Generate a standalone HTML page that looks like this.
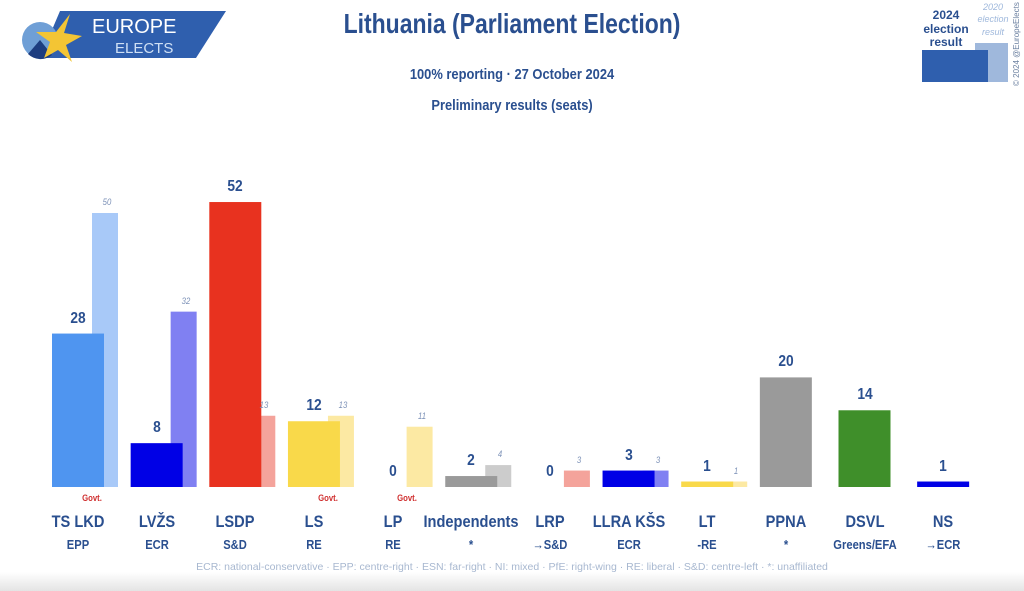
<!DOCTYPE html>
<html><head><meta charset="utf-8"><style>
html,body{margin:0;padding:0;width:1024px;height:591px;overflow:hidden;background:#fff;font-family:"Liberation Sans",sans-serif}
#wrap{position:relative;width:1024px;height:591px}
.t{position:absolute;color:#2a4f8f;font-weight:bold;white-space:nowrap;transform:scaleX(0.86);transform-origin:center}
</style></head><body><div id="wrap">
<svg width="1024" height="591" style="position:absolute;left:0;top:0">
<defs><linearGradient id="sh" x1="0" y1="0" x2="0" y2="1"><stop offset="0" stop-color="#fff"/><stop offset="1" stop-color="#e4e4e4"/></linearGradient></defs>
<rect x="0" y="572" width="1024" height="19" fill="url(#sh)"/>
<g>
<polygon points="60,11 226,11 196,58 40,58" fill="#2f5fae"/>
<circle cx="40" cy="40" r="18" fill="#6f9fd6"/>
<path d="M40,40 L28,54 A18,18 0 0 0 52,55 Z" fill="#1d3d80"/>
<polygon points="70,14 64,33 82,36 66,45 72,62 58,50 44,58 50,42 36,32 56,32" fill="#f3c534"/>
<text x="92" y="33" font-size="20" fill="#fff" font-family="Liberation Sans">EUROPE</text>
<text x="115" y="53" font-size="15" fill="#cfe0f5" font-family="Liberation Sans">ELECTS</text>
</g>
<g>
<rect x="975" y="43" width="33" height="39" fill="#9fb8dc"/>
<rect x="922" y="50" width="66" height="32" fill="#2f5fae"/>
<text x="946" y="19" font-size="12" font-weight="bold" fill="#2a4f8f" text-anchor="middle">2024</text>
<text x="946" y="33" font-size="12" font-weight="bold" fill="#2a4f8f" text-anchor="middle">election</text>
<text x="946" y="46" font-size="12" font-weight="bold" fill="#2a4f8f" text-anchor="middle">result</text>
<text x="993" y="10" font-size="9" font-style="italic" fill="#9fb8dc" text-anchor="middle">2020</text>
<text x="993" y="22" font-size="9" font-style="italic" fill="#9fb8dc" text-anchor="middle">election</text>
<text x="993" y="35" font-size="9" font-style="italic" fill="#9fb8dc" text-anchor="middle">result</text>
<text transform="translate(1019,86) rotate(-90)" font-size="8" fill="#6a7f9f">© 2024 @EuropeElects</text>
</g>
<g id="bars"></g>
</svg>
<div class="t" style="left:0;width:1024px;text-align:center;top:8px;font-size:28px;transform:scaleX(0.82)">Lithuania (Parliament Election)</div>
<div class="t" style="left:0;width:1024px;text-align:center;top:66px;font-size:15px">100% reporting · 27 October 2024</div>
<div class="t" style="left:0;width:1024px;text-align:center;top:97px;font-size:15px">Preliminary results (seats)</div>
<div class="t" style="left:0;width:1024px;text-align:center;top:561px;font-size:10.5px;font-weight:normal;color:#a8b8d0;transform:none">ECR: national-conservative · EPP: centre-right · ESN: far-right · NI: mixed · PfE: right-wing · RE: liberal · S&amp;D: centre-left · *: unaffiliated</div>
<div id="labels"></div>
</div>
<script>
const parties=["TS LKD","LVŽS","LSDP","LS","LP","Independents","LRP","LLRA KŠS","LT","PPNA","DSVL","NS"];
const groups=["EPP","ECR","S&D","RE","RE","*","→S&D","ECR","-RE","*","Greens/EFA","→ECR"];
const seats2024=[28,8,52,12,0,2,0,3,1,20,14,1];
const seats2020=[50,32,13,13,11,4,3,3,1,null,null,null];
const govt=[true,false,false,true,true,false,false,false,false,false,false,false];
const colors=["#4f95f0","#0000e6","#e8321f","#f9d94a","#f9d94a","#9a9a9a","#f08a80","#0000e6","#f9d94a","#9a9a9a","#3f8f2a","#0000e6"];
const prevColors=["#a8c9f8","#8080f2","#f4a39b","#fce9a3","#fce9a3","#cccccc","#f4a39b","#8080f2","#fce9a3","#ccc","#ccc","#ccc"];
const base=487, k=5.48;
const y=v=>base-v*k;
const xg=i=>52+i*78.65;
const g=document.getElementById('bars'),L=document.getElementById('labels');
const NS='http://www.w3.org/2000/svg';
function lab(txt,x,top,size,extra,name){const d=document.createElement('div');d.className='t';d.textContent=txt;d.style.left=(x-60)+'px';d.style.width='120px';d.style.textAlign='center';d.style.top=top+'px';d.style.fontSize=size+'px';if(extra)Object.assign(d.style,extra);


L.appendChild(d);}
parties.forEach((p,i)=>{
 const x=xg(i);
 if(seats2020[i]!==null){
  const r=document.createElementNS(NS,'rect');
  r.setAttribute('x',x+40);r.setAttribute('width',26);r.setAttribute('y',y(seats2020[i]));r.setAttribute('height',Math.max(seats2020[i]*k,0));r.setAttribute('fill',prevColors[i]);
  
  
  g.appendChild(r);
  lab(String(seats2020[i]),x+55,y(seats2020[i])-16,9,{fontWeight:'normal',fontStyle:'italic',color:'#7d92b8'},'value-2020-'+i);
 }
 const h=Math.max(seats2024[i]*k,seats2024[i]>0?4:0);
 const r=document.createElementNS(NS,'rect');
 r.setAttribute('x',x);r.setAttribute('width',52);r.setAttribute('y',base-h);r.setAttribute('height',h);r.setAttribute('fill',colors[i]);
 
 
 g.appendChild(r);
 lab(String(seats2024[i]),x+26,base-h-24,16,null,'value-2024-'+i);
 if(govt[i]) lab('Govt.',x+40,493,9,{color:'#d03030'},'govt-tag-'+i);
 lab(p,x+26,512,17,null,'party-name-'+i);
 lab(groups[i],x+26,537,13,null,'party-group-'+i);
});
</script>
</body></html>
